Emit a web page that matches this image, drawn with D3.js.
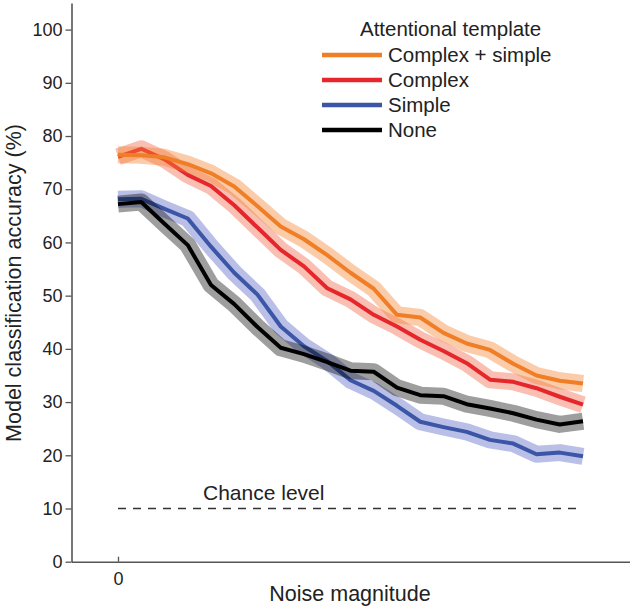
<!DOCTYPE html>
<html>
<head>
<meta charset="utf-8">
<script src="https://cdn.jsdelivr.net/npm/d3@7"></script>
<style>
  html, body { margin: 0; padding: 0; background: #fff; }
  svg text { font-family: "Liberation Sans", Arial, Helvetica, sans-serif; }
</style>
</head>
<body>
<svg id="chart" width="633" height="610"></svg>
<script>
// ---- data ----
const noiseLevels = [0, 1, 2, 3, 4, 5, 6, 7, 8, 9, 10, 11, 12, 13, 14, 15, 16, 17, 18, 19, 20];
const complexSimple = [76.5, 76.4, 76.0, 74.7, 73.0, 70.5, 66.8, 63.0, 60.6, 57.6, 54.3, 51.3, 46.4, 45.9, 43.0, 41.0, 39.8, 37.2, 35.0, 34.0, 33.5];
const complexOnly   = [76.1, 77.6, 75.6, 72.7, 70.6, 67.0, 62.8, 58.6, 55.5, 51.4, 49.3, 46.4, 44.2, 41.7, 39.6, 37.3, 34.2, 33.8, 32.6, 31.0, 29.5];
const simpleOnly    = [68.1, 68.2, 66.3, 64.5, 59.2, 54.3, 50.2, 44.2, 40.5, 37.7, 34.1, 32.1, 29.3, 26.3, 25.3, 24.4, 22.9, 22.2, 20.2, 20.5, 19.8];
const noneTemplate  = [67.2, 67.6, 63.5, 59.5, 52.0, 48.4, 44.1, 40.2, 39.0, 37.5, 35.9, 35.7, 32.7, 31.3, 31.1, 29.6, 28.8, 27.9, 26.7, 25.8, 26.4];
const seriesNames = ["Complex + simple", "Complex", "Simple", "None"];
const yTicks = [0, 10, 20, 30, 40, 50, 60, 70, 80, 90, 100];
const xTicks = [0];
const chanceLevel = 10;

const svg = d3.select("#chart");

const x = d3.scaleLinear().domain([-2, 22]).range([71.5, 629.5]);
const y = d3.scaleLinear().domain([0, 105]).range([561.7, 3]);

const series = [
  { name: seriesNames[2], values: simpleOnly,    color: "#3b56a6", band: "#5060c0", bandOp: 0.40 },
  { name: seriesNames[3], values: noneTemplate,  color: "#000000", band: "#000000", bandOp: 0.38 },
  { name: seriesNames[1], values: complexOnly,   color: "#e5262b", band: "#f06040", bandOp: 0.40 },
  { name: seriesNames[0], values: complexSimple, color: "#f07e26", band: "#f58634", bandOp: 0.42 }
];

const line = d3.line().x((d, i) => x(noiseLevels[i])).y(d => y(d));

// chance level
svg.append("line")
  .attr("x1", x(noiseLevels[0])).attr("x2", x(noiseLevels[noiseLevels.length - 1]))
  .attr("y1", y(chanceLevel)).attr("y2", y(chanceLevel))
  .attr("stroke", "#333").attr("stroke-width", 1.3)
  .attr("stroke-dasharray", "8,7");
svg.append("text")
  .attr("x", 203).attr("y", y(chanceLevel) - 8.5)
  .attr("font-size", 21).attr("fill", "#222")
  .text("Chance level");

// series: band + line
series.forEach(s => {
  svg.append("path")
    .datum(s.values)
    .attr("d", line)
    .attr("fill", "none")
    .attr("stroke", s.band)
    .attr("stroke-opacity", s.bandOp)
    .attr("stroke-width", 17)
    .attr("stroke-linejoin", "round")
    .attr("stroke-linecap", "butt");
  svg.append("path")
    .datum(s.values)
    .attr("d", line)
    .attr("fill", "none")
    .attr("stroke", s.color)
    .attr("stroke-width", 4)
    .attr("stroke-linejoin", "round");
});

// axes
const yAxis = svg.append("g")
  .attr("transform", `translate(${x(-2)},0)`)
  .call(d3.axisLeft(y).tickValues(yTicks).tickSizeInner(6).tickSizeOuter(0).tickPadding(3));
const xAxis = svg.append("g")
  .attr("transform", `translate(0,${y(0)})`)
  .call(d3.axisBottom(x).tickValues(xTicks).tickFormat(d3.format("d")).tickSizeInner(-5).tickSizeOuter(0).tickPadding(11));

[yAxis, xAxis].forEach(g => {
  g.select(".domain").attr("stroke", "#555").attr("stroke-width", 1.6);
  g.selectAll(".tick line").attr("stroke", "#555").attr("stroke-width", 1.3);
  g.selectAll(".tick text").attr("font-size", 18).attr("fill", "#222")
    .style("font-family", "'Liberation Sans', Arial, sans-serif");
});

// axis labels
svg.append("text")
  .attr("transform", "translate(21,283) rotate(-90)")
  .attr("text-anchor", "middle")
  .attr("font-size", 21.5).attr("fill", "#222")
  .text("Model classification accuracy (%)");
svg.append("text")
  .attr("x", 350).attr("y", 601)
  .attr("text-anchor", "middle")
  .attr("font-size", 21.5).attr("fill", "#222")
  .text("Noise magnitude");

// legend
const legend = svg.append("g");
legend.append("text")
  .attr("x", 360).attr("y", 36)
  .attr("font-size", 20.5).attr("fill", "#222")
  .text("Attentional template");
const legendItems = [series[3], series[2], series[0], series[1]];
legendItems.forEach((s, i) => {
  const yy = 55 + i * 25;
  legend.append("line")
    .attr("x1", 322).attr("x2", 382).attr("y1", yy).attr("y2", yy)
    .attr("stroke", s.color).attr("stroke-width", 4.5);
  legend.append("text")
    .attr("x", 388).attr("y", yy).attr("dy", "0.36em")
    .attr("font-size", 20.5).attr("fill", "#222")
    .text(s.name);
});
</script>
</body>
</html>
